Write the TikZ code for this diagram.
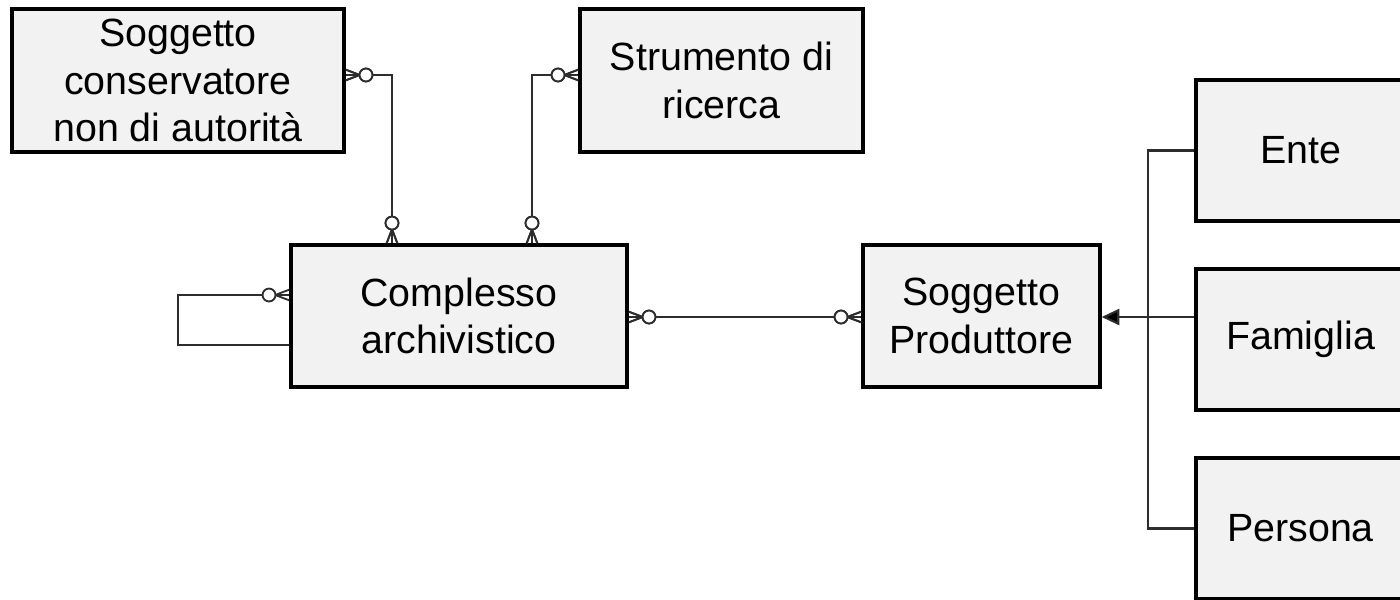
\documentclass[tikz,border=0pt]{standalone}
\usepackage{fontspec}
\setmainfont{Liberation Sans}
\usepackage{xcolor}
\definecolor{BoxFill}{RGB}{242,242,242}
\definecolor{LinkGray}{RGB}{45,45,45}
\usepackage{tikz}
\usetikzlibrary{
    arrows.meta,
    calc,
    decorations.markings
}
\tikzset{
    entita/.style={
        draw=black,
        fill=BoxFill,
        line width=2.4pt,
        inner sep=0pt,
        align=center,
        font=\fontsize{28}{34}\selectfont
    },
    link/.style={
        draw=LinkGray,
        line width=1.5pt
    },
    % zero-or-many end (circle + crow's foot)
    zmend/.style={
        postaction={decorate},
        decoration={
            markings,
            mark=at position 1 with {
                \draw[LinkGray,line width=1.3pt]
                (-10pt,0) -- (0,3.8pt)
                (-10pt,0) -- (0,-3.8pt);
                \draw[LinkGray,line width=1.3pt,fill=white]
                (-14.4pt,0) circle (4.6pt);
            }
        }
    },
    zmstart/.style={
        postaction={decorate},
        decoration={
            markings,
            mark=at position 0 with {
                \draw[LinkGray,line width=1.3pt]
                (10pt,0) -- (0,3.8pt)
                (10pt,0) -- (0,-3.8pt);
                \draw[LinkGray,line width=1.3pt,fill=white]
                (14.4pt,0) circle (4.6pt);
            }
        }
    }
}
\begin{document}
\begin{tikzpicture}[x=0.025cm,y=-0.025cm]
%
    \clip (0,0) rectangle (1400,599);
    \fill[white] (0,0) rectangle (1400,599);
%
    % entities
%
    \node[
        entita,
        minimum width=8.3cm,
        minimum height=3.575cm
    ]
    (cons) at (178,80.5) {
        Soggetto\\conservatore\\non di autorità
    };
%
    \node[
        entita,
        minimum width=7.075cm,
        minimum height=3.575cm
    ]
    (strum) at (721.5,80.5) {
        Strumento di\\ricerca
    };
%
    \node[
        entita,
        minimum width=8.4cm,
        minimum height=3.55cm
    ]
    (compl) at (459,316) {
        Complesso\\archivistico
    };
%
    \node[
        entita,
        minimum width=5.925cm,
        minimum height=3.55cm
    ]
    (prod) at (981.5,316) {
        Soggetto\\Produttore
    };
%
    \node[
        entita,
        minimum width=5.5cm,
        minimum height=3.525cm
    ]
    (ente) at (1306,150.5) {
        Ente
    };
%
    \node[
        entita,
        minimum width=5.5cm,
        minimum height=3.525cm
    ]
    (fam) at (1306,339.5) {
        Famiglia
    };
%
    \node[
        entita,
        minimum width=5.5cm,
        minimum height=3.525cm
    ]
    (pers) at (1306,528.5) {
        Persona
    };
%
    % relationships
%
    \draw[
        link,
        zmstart,
        zmend
    ]
    (cons.east |- 0,75)
    -|
    (compl.north -| 392,0);
%
    \draw[
        link,
        zmstart,
        zmend
    ]
    (strum.west |- 0,75)
    -|
    (compl.north -| 532,0);
%
    % recursive link
%
    \draw[
        link,
        zmstart
    ]
    (compl.west |- 0,295)
    -- (178,295)
    -- (178,345)
    -- (compl.west |- 0,345);
%
    \draw[
        link,
        zmstart,
        zmend
    ]
    (compl.east |- 0,317)
    --
    (prod.west |- 0,317);
%
    % generalization
%
    \draw[
        link
    ]
    (ente.west)
    -- ++(-46,0)
    |-
    (pers.west);
%
    \draw[
        link,
        -{Triangle[length=12.5pt,width=11.5pt,fill=black]}
    ]
    (fam.west |- 0,317)
    --
    (prod.east |- 0,317);
%
\end{tikzpicture}
\end{document}
